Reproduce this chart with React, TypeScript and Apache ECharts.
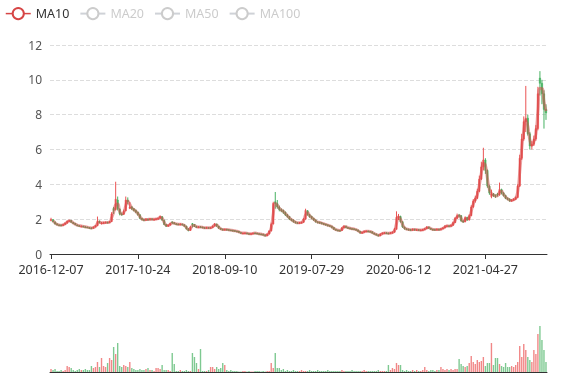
import React, { useEffect, useRef } from 'react';
import * as echarts from 'echarts';

// Label anchor dates (every 43rd category carries one of these)
const anchorDates = ['2016-12-07', '2017-10-24', '2018-09-10', '2019-07-29', '2020-06-12', '2021-04-27'];
const LABEL_STEP = 43;

// Weekly-sampled candles: [open, close, low, high]
const candles = [
  [1.92,1.98,1.88,2.08],[1.97,1.85,1.82,2.0],[1.84,1.72,1.7,1.87],[1.73,1.68,1.64,1.76],[1.67,1.66,1.62,1.71],[1.67,1.64,1.6,1.7],[1.63,1.7,1.61,1.73],[1.7,1.78,1.68,1.81],[1.77,1.88,1.75,1.92],[1.89,1.92,1.84,1.97],
  [1.93,1.82,1.8,1.95],[1.81,1.75,1.72,1.84],[1.76,1.68,1.66,1.78],[1.67,1.64,1.6,1.7],[1.63,1.62,1.58,1.66],[1.58,1.6,1.56,1.64],[1.6,1.57,1.54,1.62],[1.56,1.55,1.52,1.6],[1.55,1.53,1.5,1.57],[1.52,1.5,1.46,1.55],
  [1.5,1.49,1.44,1.53],[1.48,1.55,1.46,1.58],[1.55,1.62,1.53,1.66],[1.62,1.88,1.6,2.15],[1.87,1.8,1.76,1.92],[1.74,1.78,1.7,1.84],[1.78,1.8,1.75,1.85],[1.8,1.82,1.77,1.86],[1.83,1.8,1.76,1.85],[1.8,1.86,1.78,1.9],
  [1.86,2.3,1.84,2.4],[2.62,2.5,2.3,2.7],[2.55,3.15,2.5,4.15],[3.1,2.6,2.5,3.3],[2.58,2.3,2.22,2.62],[2.3,2.28,2.2,2.38],[2.28,2.45,2.25,2.55],[2.48,3.1,2.45,3.3],[3.08,3.0,2.85,3.25],[2.62,2.7,2.58,2.98],
  [2.7,2.6,2.52,2.76],[2.6,2.5,2.44,2.64],[2.5,2.4,2.34,2.55],[2.4,2.25,2.2,2.43],[2.25,2.05,2.0,2.28],[2.05,1.98,1.92,2.08],[1.98,1.95,1.88,2.02],[1.94,2.0,1.9,2.05],[2.0,1.97,1.92,2.04],[1.96,2.02,1.93,2.06],
  [2.02,1.98,1.94,2.05],[1.97,2.0,1.93,2.04],[2.0,2.02,1.96,2.07],[2.01,2.05,1.98,2.1],[2.05,2.15,2.02,2.22],[2.14,1.95,1.9,2.18],[1.94,1.7,1.66,1.96],[1.7,1.6,1.55,1.73],[1.6,1.66,1.56,1.7],[1.66,1.75,1.63,1.79],
  [1.84,1.8,1.72,1.88],[1.8,1.74,1.7,1.83],[1.74,1.72,1.68,1.77],[1.72,1.7,1.66,1.75],[1.69,1.72,1.66,1.76],[1.72,1.68,1.64,1.74],[1.68,1.6,1.56,1.7],[1.6,1.45,1.4,1.62],[1.45,1.35,1.3,1.48],[1.35,1.55,1.33,1.6],
  [1.74,1.7,1.52,1.78],[1.7,1.58,1.55,1.72],[1.58,1.55,1.5,1.62],[1.54,1.56,1.5,1.6],[1.57,1.55,1.5,1.6],[1.55,1.52,1.48,1.57],[1.52,1.5,1.46,1.54],[1.5,1.52,1.47,1.56],[1.52,1.5,1.46,1.54],[1.49,1.52,1.46,1.56],
  [1.52,1.6,1.5,1.64],[1.6,1.72,1.58,1.78],[1.72,1.6,1.56,1.74],[1.6,1.48,1.44,1.62],[1.48,1.42,1.38,1.5],[1.42,1.4,1.36,1.46],[1.4,1.42,1.37,1.45],[1.42,1.4,1.36,1.44],[1.4,1.38,1.34,1.42],[1.38,1.36,1.32,1.4],
  [1.36,1.35,1.31,1.39],[1.35,1.32,1.28,1.37],[1.32,1.3,1.26,1.34],[1.3,1.24,1.2,1.32],[1.24,1.2,1.16,1.26],[1.19,1.2,1.15,1.24],[1.2,1.21,1.16,1.25],[1.21,1.18,1.14,1.23],[1.18,1.15,1.11,1.2],[1.15,1.17,1.12,1.2],
  [1.17,1.2,1.14,1.23],[1.21,1.2,1.16,1.24],[1.2,1.17,1.13,1.22],[1.17,1.15,1.11,1.19],[1.15,1.14,1.1,1.18],[1.14,1.1,1.06,1.16],[1.1,1.05,1.0,1.12],[1.05,1.15,1.03,1.18],[1.15,1.32,1.13,1.36],[1.32,1.7,1.3,1.8],
  [1.72,2.9,1.7,3.0],[3.0,2.9,2.6,3.56],[2.9,2.7,2.6,3.1],[2.7,2.55,2.45,2.78],[2.55,2.5,2.4,2.62],[2.5,2.4,2.3,2.55],[2.4,2.25,2.18,2.44],[2.25,2.15,2.08,2.3],[2.15,2.0,1.95,2.18],[2.0,1.95,1.88,2.04],
  [1.95,1.85,1.8,1.98],[1.85,1.8,1.75,1.88],[1.8,1.78,1.74,1.84],[1.77,1.8,1.74,1.84],[1.8,1.82,1.76,1.86],[1.82,2.0,1.8,2.06],[2.0,2.5,1.98,2.6],[2.48,2.25,2.2,2.52],[2.25,2.15,2.08,2.3],[2.15,2.05,2.0,2.2],
  [2.05,1.95,1.9,2.08],[1.95,1.85,1.8,1.98],[1.85,1.82,1.76,1.88],[1.82,1.8,1.74,1.86],[1.8,1.75,1.7,1.83],[1.75,1.72,1.66,1.78],[1.72,1.68,1.62,1.74],[1.68,1.64,1.58,1.7],[1.64,1.6,1.55,1.66],[1.6,1.52,1.47,1.62],
  [1.52,1.42,1.38,1.54],[1.42,1.38,1.33,1.45],[1.38,1.36,1.3,1.4],[1.36,1.35,1.3,1.39],[1.35,1.5,1.33,1.55],[1.5,1.6,1.48,1.65],[1.6,1.52,1.48,1.62],[1.52,1.5,1.45,1.55],[1.5,1.46,1.42,1.52],[1.46,1.45,1.4,1.5],
  [1.45,1.42,1.38,1.47],[1.42,1.38,1.34,1.44],[1.38,1.3,1.26,1.4],[1.3,1.22,1.16,1.32],[1.22,1.25,1.18,1.28],[1.25,1.3,1.22,1.34],[1.3,1.32,1.26,1.36],[1.32,1.3,1.26,1.35],[1.3,1.28,1.24,1.32],[1.28,1.2,1.16,1.3],
  [1.2,1.15,1.1,1.22],[1.15,1.1,1.05,1.17],[1.1,1.05,1.0,1.12],[1.05,1.15,1.03,1.18],[1.15,1.2,1.12,1.24],[1.2,1.22,1.16,1.26],[1.22,1.2,1.15,1.25],[1.2,1.18,1.14,1.23],[1.18,1.22,1.15,1.26],[1.22,1.25,1.18,1.3],
  [1.25,1.4,1.23,1.5],[1.42,2.1,1.4,2.45],[2.1,2.15,1.95,2.3],[2.15,1.85,1.8,2.2],[1.85,1.55,1.5,1.88],[1.55,1.45,1.4,1.58],[1.45,1.42,1.38,1.48],[1.42,1.4,1.35,1.46],[1.4,1.38,1.33,1.44],[1.38,1.42,1.34,1.46],
  [1.42,1.4,1.35,1.45],[1.39,1.4,1.34,1.44],[1.4,1.37,1.32,1.42],[1.37,1.38,1.33,1.42],[1.38,1.4,1.34,1.44],[1.4,1.45,1.37,1.5],[1.45,1.55,1.43,1.6],[1.55,1.48,1.44,1.57],[1.48,1.42,1.38,1.5],[1.42,1.4,1.36,1.45],
  [1.41,1.4,1.36,1.44],[1.4,1.42,1.37,1.46],[1.42,1.4,1.36,1.45],[1.4,1.45,1.37,1.49],[1.45,1.5,1.43,1.55],[1.5,1.6,1.48,1.66],[1.6,1.62,1.55,1.68],[1.62,1.6,1.55,1.66],[1.6,1.65,1.56,1.7],[1.65,1.8,1.62,1.86],
  [1.8,2.05,1.78,2.12],[2.05,2.2,2.0,2.32],[2.22,2.2,2.1,2.3],[2.2,1.9,1.85,2.24],[1.9,1.85,1.78,1.95],[1.85,2.1,1.82,2.16],[2.1,1.95,1.9,2.14],[1.95,2.2,1.92,2.28],[2.2,2.7,2.18,2.8],[2.7,3.05,2.65,3.15],
  [3.05,3.2,2.95,3.35],[3.2,3.6,3.15,3.75],[3.6,4.3,3.55,4.5],[4.3,5.0,4.25,5.3],[5.0,5.4,4.8,6.1],[5.4,4.8,4.6,5.5],[4.8,3.9,3.8,4.85],[3.9,3.5,3.4,3.95],[3.3,3.45,3.2,3.7],[3.45,3.35,3.28,3.5],
  [3.36,3.3,3.22,3.42],[3.45,3.4,3.3,3.5],[3.4,3.7,3.35,4.1],[3.7,3.5,3.42,3.75],[3.5,3.35,3.3,3.55],[3.35,3.2,3.15,3.4],[3.2,3.15,3.08,3.25],[3.15,3.05,3.0,3.2],[3.05,3.1,3.0,3.15],[3.1,3.15,3.05,3.2],
  [3.15,3.25,3.1,3.3],[3.25,3.9,3.2,4.0],[3.9,5.5,3.85,5.7],[5.5,6.6,5.4,6.9],[6.6,7.6,6.5,7.9],[7.6,7.8,7.0,9.65],[7.8,6.9,6.8,8.0],[6.9,6.2,6.0,7.0],[6.2,6.3,6.0,6.5],[6.3,6.6,6.2,6.8],
  [6.6,7.2,6.5,7.4],[7.2,9.2,7.1,9.6],[10.1,9.8,9.1,10.5],[9.8,9.2,8.6,10.0],[9.2,8.3,7.2,9.4],[8.3,8.1,7.7,8.6]
];

// Volume per sample
const volumes = [
  3,2,3,1,1,2,1,2,6,5,
  4,2,1,2,3,2,2,3,2,2,
  6,4,5,10,5,14,6,5,9,14,
  12,25,18,29,6,5,7,6,5,10,
  4,3,2,2,3,2,2,3,4,2,
  2,1,4,4,3,7,2,2,2,1,
  19,8,1,1,2,1,1,2,1,1,
  19,15,9,3,23,1,1,1,2,5,
  5,3,5,3,4,9,7,2,1,2,
  1,1,1,0.5,0.5,1,1,0.5,1,0.5,
  0.5,1,1,1,0.5,1,0.5,1,1,9,
  4,19,4,4,2,3,1,2,1,1,
  2,1,1,1,2,1,1,1,2,1,
  1,1,2,1,1,1,1,2,1,1,
  1,1,1,1,2,1,1,1,1,2,
  1,1,1,1,1,2,1,1,1,1,
  1,1,2,1,1,1,1,7,2,4,
  3,9,7,7,2,1,2,1,1,2,
  1,2,1,1,2,5,2,1,2,2,
  1,2,2,5,3,2,3,2,3,2,
  3,3,13,8,6,5,6,9,16,10,
  8,12,10,11,15,6,9,9,29,7,
  14,14,8,6,5,9,5,5,6,5,
  7,10,26,15,28,22,15,12,10,22,
  18,38,46,32,22,10
];

const legendNames = ['MA10', 'MA20', 'MA50', 'MA100'];
const maPeriods = [10, 20, 50, 100];
const maColors = ['#d64545', '#e5a03a', '#5b8ff9', '#8d6fd1'];
const TRADING_DAYS_PER_SAMPLE = 5;

const UP = '#eb5454';
const DOWN = '#47b262';
const FONT = '"Noto Sans", sans-serif';

function buildDates(n: number): string[] {
  const t = anchorDates.map((d) => Date.parse(d + 'T00:00:00Z'));
  const out: string[] = [];
  const day = 86400000;
  for (let i = 0; i < n; i++) {
    const seg = Math.min(Math.floor(i / LABEL_STEP), t.length - 2);
    const step = (t[seg + 1] - t[seg]) / LABEL_STEP;
    const ms = t[seg] + Math.round(((i - seg * LABEL_STEP) * step) / day) * day;
    out.push(new Date(ms).toISOString().slice(0, 10));
  }
  return out;
}

function calcMA(period: number): (number | string)[] {
  const w = Math.max(1, Math.round(period / TRADING_DAYS_PER_SAMPLE));
  const res: (number | string)[] = [];
  for (let i = 0; i < candles.length; i++) {
    if (i < w - 1) {
      res.push('-');
      continue;
    }
    let s = 0;
    for (let j = 0; j < w; j++) s += candles[i - j][1];
    res.push(+(s / w).toFixed(3));
  }
  return res;
}

function renderCandle(params: any, api: any) {
  const idx = api.value(0);
  const o = api.value(1);
  const c = api.value(2);
  const l = api.value(3);
  const h = api.value(4);
  const pO = api.coord([idx, o]);
  const pC = api.coord([idx, c]);
  const pL = api.coord([idx, l]);
  const pH = api.coord([idx, h]);
  const band = api.size([1, 0])[0];
  const w = Math.max(1, band * 0.7);
  const color = c >= o ? UP : DOWN;
  const top = Math.min(pO[1], pC[1]);
  const hgt = Math.max(1, Math.abs(pO[1] - pC[1]));
  return {
    type: 'group',
    children: [
      {
        type: 'line',
        shape: { x1: pO[0], y1: pH[1], x2: pO[0], y2: pL[1] },
        style: { stroke: color, lineWidth: 1 },
      },
      {
        type: 'rect',
        shape: { x: pO[0] - w / 2, y: top, width: w, height: hgt },
        style: { fill: color, stroke: color, lineWidth: 0.5 },
      },
    ],
  };
}

export default function App() {
  const ref = useRef<HTMLDivElement>(null);
  useEffect(() => {
    if (!ref.current) return;
    const chart = echarts.init(ref.current, undefined, { renderer: 'svg' });
    const dates = buildDates(candles.length);
    const candleData = candles.map((k, i) => [i, k[0], k[1], k[2], k[3]]);
    const volData = volumes.map((v, i) => ({
      value: v,
      itemStyle: { color: candles[i][1] >= candles[i][0] ? UP : DOWN },
    }));
    const selected: Record<string, boolean> = {};
    legendNames.forEach((n, i) => (selected[n] = i === 0));
    chart.setOption({
      animation: false,
      textStyle: { fontFamily: FONT },
      legend: {
        data: legendNames.map((n) => ({ name: n, lineStyle: { width: 1.5, opacity: 1 } })),
        selected,
        left: 0,
        top: 2,
        itemGap: 10,
        itemWidth: 25,
        itemHeight: 14,
        inactiveColor: '#ccc',
        textStyle: { color: '#333', fontSize: 12.5, fontFamily: FONT },
      },
      grid: [
        { left: 50, right: 30, top: 45, height: 209 },
        { left: 50, right: 30, top: 312, height: 60 },
      ],
      xAxis: [
        {
          type: 'category',
          data: dates,
          gridIndex: 0,
          boundaryGap: true,
          axisLine: { lineStyle: { color: '#333' } },
          axisTick: { show: true, alignWithLabel: true, interval: LABEL_STEP - 1, lineStyle: { color: '#333' } },
          axisLabel: { interval: LABEL_STEP - 1, color: '#333', fontSize: 12.5, fontFamily: FONT, margin: 9, lineHeight: 13 },
          splitLine: { show: false },
        },
        {
          type: 'category',
          data: dates,
          gridIndex: 1,
          boundaryGap: true,
          axisLine: { lineStyle: { color: '#333' } },
          axisTick: { show: false },
          axisLabel: { show: false },
          splitLine: { show: false },
        },
      ],
      yAxis: [
        {
          type: 'value',
          gridIndex: 0,
          min: 0,
          max: 12,
          interval: 2,
          axisLine: { show: false },
          axisTick: { show: false },
          axisLabel: { color: '#555', fontSize: 12, fontFamily: FONT, lineHeight: 12 },
          splitLine: { lineStyle: { type: 'dashed', color: '#ddd' } },
        },
        { type: 'value', gridIndex: 1, min: 0, max: 60, show: false },
      ],
      series: [
        {
          name: 'K',
          type: 'custom',
          data: candleData,
          xAxisIndex: 0,
          yAxisIndex: 0,
          encode: { x: 0, y: [1, 2, 3, 4] },
          renderItem: renderCandle,
        },
        ...legendNames.map((n, i) => ({
          name: n,
          type: 'line',
          data: calcMA(maPeriods[i]),
          smooth: true,
          showSymbol: false,
          color: maColors[i],
          itemStyle: { borderWidth: 1.5 },
          lineStyle: { width: 3, opacity: 0.5 },
          xAxisIndex: 0,
          yAxisIndex: 0,
          z: 3,
        })),
        {
          name: 'Volume',
          type: 'bar',
          data: volData,
          xAxisIndex: 1,
          yAxisIndex: 1,
          itemStyle: { opacity: 0.7 },
        },
      ],
    });
    return () => chart.dispose();
  }, []);
  return <div ref={ref} style={{ position: 'fixed', left: 0, top: 0, width: 577, height: 380 }} />;
}
